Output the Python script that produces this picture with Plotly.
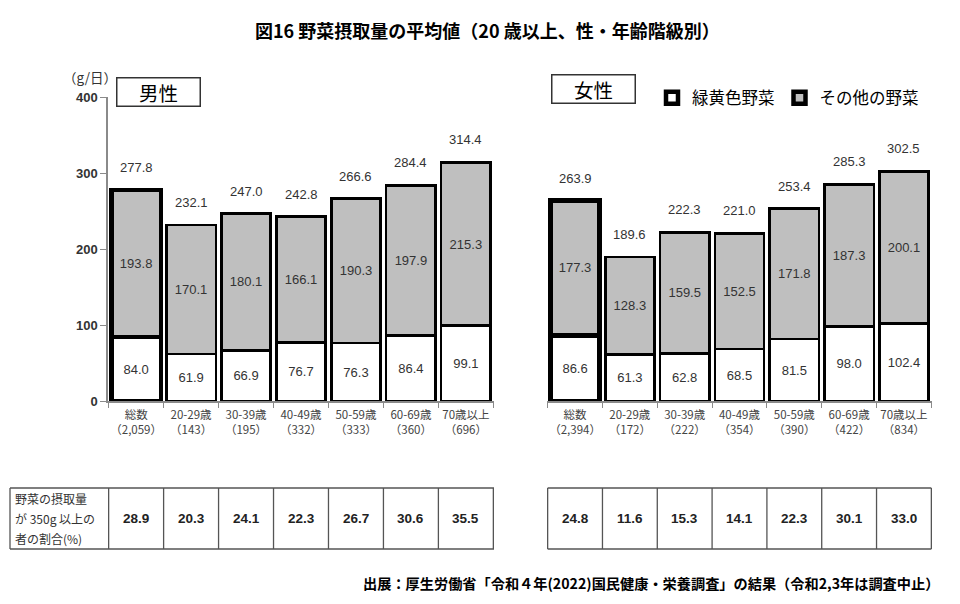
import plotly.graph_objects as go

# ---- data ----
age_groups = ["総数", "20-29歳", "30-39歳", "40-49歳", "50-59歳", "60-69歳", "70歳以上"]
male_n = ["2,059", "143", "195", "332", "333", "360", "696"]
female_n = ["2,394", "172", "222", "354", "390", "422", "834"]
male_gy = [84.0, 61.9, 66.9, 76.7, 76.3, 86.4, 99.1]
male_other = [193.8, 170.1, 180.1, 166.1, 190.3, 197.9, 215.3]
male_total = [277.8, 232.1, 247.0, 242.8, 266.6, 284.4, 314.4]
female_gy = [86.6, 61.3, 62.8, 68.5, 81.5, 98.0, 102.4]
female_other = [177.3, 128.3, 159.5, 152.5, 171.8, 187.3, 200.1]
female_total = [263.9, 189.6, 222.3, 221.0, 253.4, 285.3, 302.5]
male_pct = [28.9, 20.3, 24.1, 22.3, 26.7, 30.6, 35.5]
female_pct = [24.8, 11.6, 15.3, 14.1, 22.3, 30.1, 33.0]
y_ticks = [0, 100, 200, 300, 400]
series_names = ["緑黄色野菜", "その他の野菜"]
table_header = ["野菜の摂取量", "が 350g 以上の", "者の割合(%)"]

# ---- styles ----
OFF = 8               # default page margin around the figure
W, H = 960 - OFF, 604 - OFF
JP = "Noto Sans CJK JP"
NUM = "Liberation Sans, Arial, sans-serif"
TXT = "#333333"
GRAY = "#bfbfbf"
AX = "#8a8a8a"

def px(x):
    return (x - OFF) / W

def py(y):
    return 1 - (y - OFF) / H

male_cats = [f"{g}<br>（{n}）" for g, n in zip(age_groups, male_n)]
female_cats = [f"{g}<br>（{n}）" for g, n in zip(age_groups, female_n)]
lw = [4.5] + [2.6] * (len(age_groups) - 1)

fig = go.Figure()

def add_bars(cats, gy, other, xa, ya, show):
    for vals, fill, name in ((gy, "white", series_names[0]), (other, GRAY, series_names[1])):
        fig.add_trace(go.Bar(
            x=cats, y=vals, name=name, legendgroup=name, showlegend=show,
            xaxis=xa, yaxis=ya,
            marker=dict(color=fill, line=dict(color="black", width=lw)),
            text=[f"{v:.1f}" for v in vals], textposition="inside",
            insidetextanchor="middle", textangle=0, constraintext="none",
            insidetextfont=dict(family=NUM, size=13, color=TXT),
            hoverinfo="skip",
        ))

add_bars(male_cats, male_gy, male_other, "x", "y", True)
add_bars(female_cats, female_gy, female_other, "x2", "y2", False)

annotations = []
for cats, totals, xr, yr in ((male_cats, male_total, "x", "y"), (female_cats, female_total, "x2", "y2")):
    for c, t in zip(cats, totals):
        annotations.append(dict(x=c, y=t, xref=xr, yref=yr, text=f"{t:.1f}", showarrow=False,
                                xanchor="center", yanchor="bottom", yshift=13,
                                font=dict(family=NUM, size=13, color=TXT)))

# ---- table ----
ydom = [py(401), py(97.4)]
t_top, t_bot = py(488), py(549)
t_mid = (t_top + t_bot) / 2
shapes = []
tbl_line = dict(color="#555555", width=1.3)
left_x0 = px(10)
male_end = px(494)
for yy in (t_top, t_bot):
    shapes.append(dict(type="line", xref="paper", yref="paper", x0=left_x0, x1=male_end, y0=yy, y1=yy, line=tbl_line))
shapes.append(dict(type="line", xref="paper", yref="paper", x0=left_x0, x1=left_x0, y0=t_bot, y1=t_top, line=tbl_line))
for k in range(len(age_groups) + 1):
    shapes.append(dict(type="line", xref="x", yref="paper", x0=k - 0.5, x1=k - 0.5, y0=t_bot, y1=t_top, line=tbl_line))
    shapes.append(dict(type="line", xref="x2", yref="paper", x0=k - 0.5, x1=k - 0.5, y0=t_bot, y1=t_top, line=tbl_line))
for yy in (t_top, t_bot):
    shapes.append(dict(type="line", xref="x2", yref="paper", x0=-0.5, x1=len(age_groups) - 0.5, y0=yy, y1=yy, line=tbl_line))
for i, line in enumerate(table_header):
    annotations.append(dict(x=px(13), y=py(498 + 20 * i), xref="paper", yref="paper", xanchor="left",
                            yanchor="middle", text=line, showarrow=False,
                            font=dict(family=JP, size=12, color=TXT)))
for cats, pcts, xr in ((male_cats, male_pct, "x"), (female_cats, female_pct, "x2")):
    for c, p in zip(cats, pcts):
        annotations.append(dict(x=c, y=t_mid, xref=xr, yref="paper", text=f"{p:.1f}", showarrow=False,
                                xanchor="center", yanchor="middle",
                                font=dict(family=NUM, size=13.5, color="#222222", weight="bold")))

# ---- labels ----
annotations += [
    dict(x=px(487), y=py(30), xref="paper", yref="paper", showarrow=False, xanchor="center", yanchor="middle",
         text="図16 野菜摂取量の平均値（20 歳以上、性・年齢階級別）",
         font=dict(family=JP, size=18, color="black", weight="bold")),
    dict(x=px(941), y=py(583), xref="paper", yref="paper", xanchor="right", yanchor="middle", showarrow=False,
         text="出展：厚生労働省「令和４年(2022)国民健康・栄養調査」の結果（令和2,3年は調査中止）",
         font=dict(family=JP, size=14.2, color="black", weight="bold")),
    dict(x=px(90), y=py(77), xref="paper", yref="paper", showarrow=False, xanchor="center", yanchor="middle",
         text="（g/日）", font=dict(family=JP, size=13.5, color=TXT)),
    dict(x=px(158), y=py(92), xref="paper", yref="paper", showarrow=False, xanchor="center", yanchor="middle",
         text="男性", width=80, height=25, bordercolor="#333333", borderwidth=1.5,
         font=dict(family=JP, size=19.5, color="black")),
    dict(x=px(593), y=py(89), xref="paper", yref="paper", showarrow=False, xanchor="center", yanchor="middle",
         text="女性", width=80, height=25, bordercolor="#333333", borderwidth=1.5,
         font=dict(family=JP, size=19.5, color="black")),
]

xcommon = dict(type="category", tickson="boundaries", ticks="outside", ticklen=5, tickcolor=AX,
               showline=True, linecolor=AX, linewidth=1.5, showgrid=False, tickangle=0,
               automargin=False, zeroline=False, ticklabelstandoff=2,
               tickfont=dict(family=JP, size=11.5, color="#444444"), fixedrange=True)

fig.update_layout(
    template="none",
    width=W, height=H, margin=dict(l=0, r=0, t=0, b=0, autoexpand=False),
    paper_bgcolor="white", plot_bgcolor="white",
    barmode="stack", bargap=0.1,
    xaxis=dict(domain=[px(108), px(494)], anchor="y", **xcommon),
    xaxis2=dict(domain=[px(547), px(932)], anchor="y2", **xcommon),
    yaxis=dict(domain=ydom, range=[0, 400], tickvals=y_ticks, showline=True, linecolor=AX, linewidth=1.5,
               ticks="outside", ticklen=6, tickcolor=AX, showgrid=False, zeroline=False, automargin=False,
               tickfont=dict(family=NUM, size=13, color=TXT, weight="bold"), anchor="x"),
    yaxis2=dict(domain=ydom, range=[0, 400], visible=False, anchor="x2", automargin=False),
    legend=dict(orientation="h", x=px(652), y=py(98), xanchor="left", yanchor="middle",
                font=dict(family=JP, size=16.5, color="black"), itemwidth=30, traceorder="normal",
                bgcolor="rgba(0,0,0,0)"),
    annotations=annotations, shapes=shapes,
    font=dict(family=JP),
    showlegend=True,
)

fig.write_html("out.html")
